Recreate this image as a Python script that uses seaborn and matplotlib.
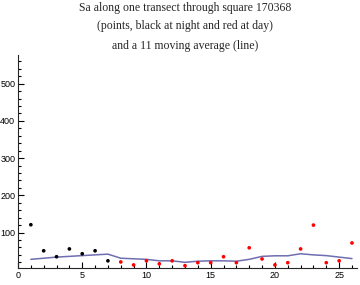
"""Sa along one transect, points by day/night plus moving average."""

import numpy as np
import pandas as pd
import seaborn as sns
import matplotlib.pyplot as plt
from matplotlib.ticker import MultipleLocator

# values
position = list(range(1, 27))
sa = [121, 51, 35, 56, 43, 51, 24, 21, 13, 24, 16, 24, 11,
      19, 19, 35, 19, 59, 29, 13, 19, 56, 120, 19, 24, 72]
period = ["night"] * 7 + ["day"] * 19
moving_avg = [28, 31, 34, 36, 38, 40, 42, 31, 29.5, 28, 24, 24, 20,
              23, 24, 24, 23, 28, 36, 37.5, 37.5, 43, 40, 38, 34, 30]
title_lines = ["Sa along one transect through square 170368",
               "(points, black at night and red at day)",
               "and a 11 moving average (line)"]

df = pd.DataFrame({"pos": position, "sa": sa, "period": period,
                   "ma": moving_avg})

sns.set_style("ticks")
plt.rcParams["font.family"] = ["Liberation Sans", "DejaVu Sans"]

fig = plt.figure(figsize=(3.6, 2.85), dpi=100)
ax = fig.add_axes([0.05, 0.06, 0.942, 0.747])

sns.lineplot(data=df, x="pos", y="ma", ax=ax, color="#5e5ea8",
             lw=1.1, alpha=0.9)
sns.scatterplot(data=df, x="pos", y="sa", hue="period", ax=ax,
                palette={"night": "black", "day": "#ff0000"},
                s=7, linewidth=0, legend=False, zorder=3)

ax.set_xlim(0, 26.4)
ax.set_ylim(5, 577)
ax.xaxis.set_major_locator(MultipleLocator(5))
ax.xaxis.set_minor_locator(MultipleLocator(1))
ax.yaxis.set_major_locator(MultipleLocator(100))
ax.yaxis.set_minor_locator(MultipleLocator(20))
ax.tick_params(which="both", direction="in", width=0.8, colors="black",
               labelsize=6.5, pad=2)
ax.tick_params(which="major", length=4)
ax.tick_params(which="minor", length=2)
ax.set_yticks([100, 200, 300, 400, 500])
ax.set_xticks([0, 5, 10, 15, 20, 25])
ax.set_xlabel("")
ax.set_ylabel("")
sns.despine(ax=ax)
for side in ("left", "bottom"):
    ax.spines[side].set_linewidth(0.8)

for i, line in enumerate(title_lines):
    fig.text(0.514, 1 - (7.5 + 19 * i) / 285, line, ha="center", va="center",
             fontsize=8.5, family="Liberation Serif")

fig.savefig("out.png", dpi=100)
